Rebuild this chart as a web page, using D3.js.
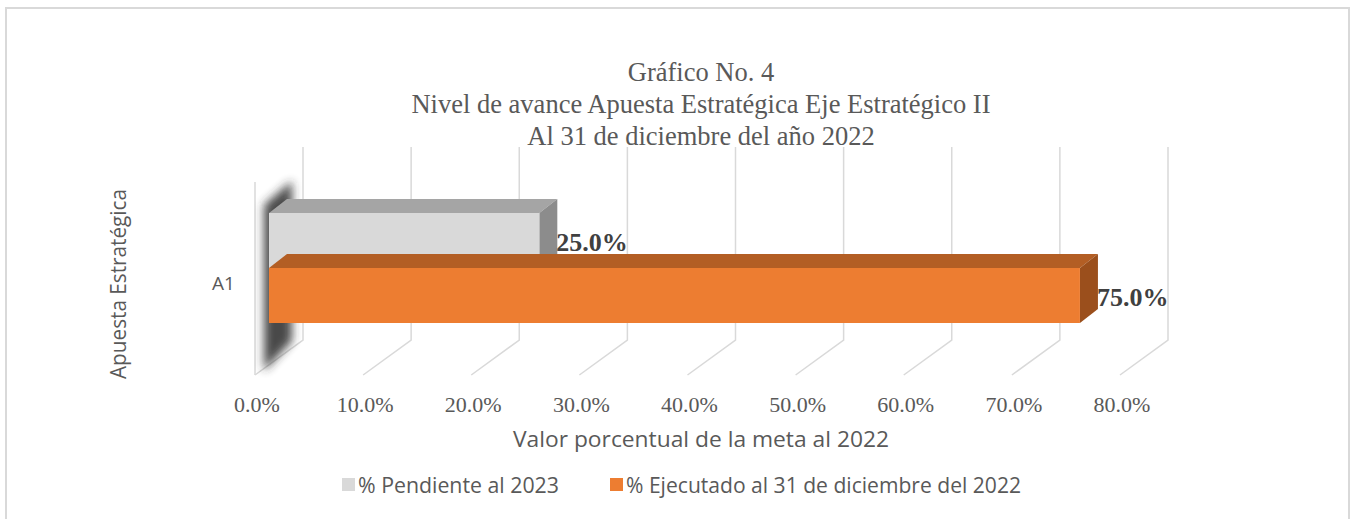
<!DOCTYPE html>
<html>
<head>
<meta charset="utf-8">
<script src="https://cdn.jsdelivr.net/npm/d3@7"></script>
<style>
  body { margin: 0; background: #fff; }
  svg { display: block; }
</style>
</head>
<body>
<svg width="1351" height="519"></svg>
<script>
const titleLines = ["Gráfico No. 4", "Nivel de avance Apuesta Estratégica Eje Estratégico II", "Al 31 de diciembre del año 2022"];
const categories = ["A1"];
const seriesNames = ["% Pendiente al 2023", "% Ejecutado al 31 de diciembre del 2022"];
const pendiente = [0.25];
const ejecutado = [0.75];
const ticks = [0, 0.1, 0.2, 0.3, 0.4, 0.5, 0.6, 0.7, 0.8];
const xTitle = "Valor porcentual de la meta al 2022";
const yTitle = "Apuesta Estratégica";

const colors = {
  front: ["#d9d9d9", "#ed7d31"],
  top: ["#a5a5a5", "#b35e24"],
  side: ["#8c8c8c", "#9b4f1c"]
};

const serif = "'Liberation Serif', serif";
const sans = "'Open Sans', sans-serif";

const svg = d3.select("svg");

// outer border
svg.append("rect")
  .attr("x", 6).attr("y", 8)
  .attr("width", 1343).attr("height", 520)
  .attr("fill", "none")
  .attr("stroke", "#d9d9d9")
  .attr("stroke-width", 2);

// 3d frame
const floorX = 255, floorY = 375;   // front-left corner of floor
const depth = {dx: 48, dy: -35};
const wallTop = 147;
const x = d3.scaleLinear().domain([0, 0.8]).range([0, 865]);

const grid = svg.append("g").attr("stroke", "#d9d9d9").attr("stroke-width", 1.5).attr("fill", "none");
grid.selectAll("path")
  .data(ticks)
  .join("path")
  .attr("d", d => {
    const fx = floorX + x(d);
    return `M${fx},${floorY}L${fx + depth.dx},${floorY + depth.dy}L${fx + depth.dx},${wallTop}`;
  });
// left wall front edge
grid.append("line")
  .attr("x1", floorX).attr("x2", floorX)
  .attr("y1", wallTop - depth.dy).attr("y2", floorY);

// shadow behind the left end of the bars
const defs = svg.append("defs");
defs.append("filter").attr("id", "blur")
  .attr("x", "-50%").attr("y", "-20%").attr("width", "200%").attr("height", "140%")
  .append("feGaussianBlur").attr("stdDeviation", 5);

// bars
const barOffset = 14;          // bars sit partway into the depth
const barDepth = {dx: 18, dy: -14};
const y = d3.scaleBand().domain(categories).range([213, 323]);
const ys = d3.scaleBand().domain([0, 1]).range([0, y.bandwidth()]);
const x0 = floorX + barOffset;

const bars = [];
categories.forEach((c, i) => {
  bars.push({s: 0, v: pendiente[i], c});
  bars.push({s: 1, v: ejecutado[i], c});
});

svg.append("path")
  .attr("d", `M${x0 - 5},${y.range()[0] - 8}L${x0 + barDepth.dx + 5},${y.range()[0] - 32}L${x0 + barDepth.dx + 5},${y.range()[1] + 18}L${x0 - 5},${y.range()[1] + 48}Z`)
  .attr("fill", "#2b2b2b")
  .attr("opacity", 0.85)
  .attr("filter", "url(#blur)");

const bg = svg.append("g").selectAll("g")
  .data(bars)
  .join("g");

bg.each(function(d) {
  const g = d3.select(this);
  const top = y(d.c) + ys(d.s);
  const h = ys.bandwidth();
  const right = x0 + x(d.v);
  const {dx, dy} = barDepth;
  g.append("path")
    .attr("fill", colors.top[d.s])
    .attr("d", `M${x0},${top}L${x0 + dx},${top + dy}L${right + dx},${top + dy}L${right},${top}Z`);
  g.append("path")
    .attr("fill", colors.side[d.s])
    .attr("d", `M${right},${top}L${right + dx},${top + dy}L${right + dx},${top + h + dy}L${right},${top + h}Z`);
  g.append("rect")
    .attr("x", x0).attr("y", top)
    .attr("width", x(d.v)).attr("height", h)
    .attr("fill", colors.front[d.s]);
});

// data labels
svg.append("g").selectAll("text")
  .data(bars)
  .join("text")
  .attr("x", d => x0 + x(d.v) + 17)
  .attr("y", d => y(d.c) + ys(d.s) + ys.bandwidth() / 2 + 10)
  .attr("font-family", serif)
  .attr("font-weight", "bold")
  .attr("font-size", 26)
  .attr("fill", "#404040")
  .text(d => d3.format(".1%")(d.v));

// tick labels
svg.append("g").selectAll("text")
  .data(ticks)
  .join("text")
  .attr("x", d => floorX + x(d) + 2)
  .attr("y", 412)
  .attr("text-anchor", "middle")
  .attr("font-family", serif)
  .attr("font-size", 22)
  .attr("fill", "#595959")
  .text(d => d3.format(".1%")(d));

// category label
svg.append("g").selectAll("text")
  .data(categories)
  .join("text")
  .attr("x", 235)
  .attr("y", d => y(d) + y.bandwidth() / 2 + 22)
  .attr("text-anchor", "end")
  .attr("font-family", sans)
  .attr("font-size", 19)
  .attr("fill", "#595959")
  .text(d => d);

// axis titles
svg.append("text")
  .attr("x", 701).attr("y", 447)
  .attr("text-anchor", "middle")
  .attr("font-family", sans)
  .attr("font-size", 21)
  .attr("textLength", 376)
  .attr("lengthAdjust", "spacingAndGlyphs")
  .attr("fill", "#595959")
  .text(xTitle);

svg.append("text")
  .attr("transform", "translate(126,284) rotate(-90)")
  .attr("text-anchor", "middle")
  .attr("font-family", sans)
  .attr("font-size", 21)
  .attr("textLength", 190)
  .attr("lengthAdjust", "spacingAndGlyphs")
  .attr("fill", "#595959")
  .text(yTitle);

// title
svg.append("g").selectAll("text")
  .data(titleLines)
  .join("text")
  .attr("x", 701)
  .attr("y", (d, i) => 81 + i * 32)
  .attr("text-anchor", "middle")
  .attr("font-family", serif)
  .attr("font-size", 26.5)
  .attr("fill", "#595959")
  .text(d => d);

// legend
const legend = svg.append("g").attr("font-family", sans).attr("font-size", 21).attr("fill", "#595959");
const legendX = [342, 610];
const legendW = [201, 395];
const li = legend.selectAll("g")
  .data(seriesNames)
  .join("g")
  .attr("transform", (d, i) => `translate(${legendX[i]},478)`);
li.append("rect").attr("width", 13).attr("height", 13).attr("fill", (d, i) => colors.front[i]);
li.append("text").attr("x", 16).attr("y", 15)
  .attr("textLength", (d, i) => legendW[i])
  .attr("lengthAdjust", "spacingAndGlyphs")
  .text(d => d);
</script>
</body>
</html>
